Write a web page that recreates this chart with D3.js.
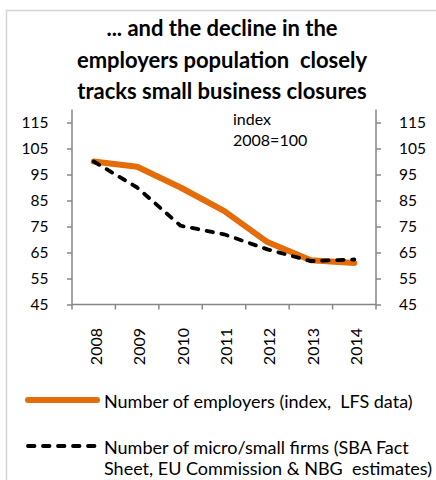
<!DOCTYPE html>
<html>
<head>
<meta charset="utf-8">
<script src="https://cdn.jsdelivr.net/npm/d3@7"></script>
<style>
  html, body { margin: 0; padding: 0; background: #fff; }
  svg { display: block; font-family: Lato, "Open Sans", sans-serif; }
</style>
</head>
<body>
<svg id="chart" width="436" height="480"></svg>
<script>
// Years on the category axis
const years = ["2008", "2009", "2010", "2011", "2012", "2013", "2014"];
// Number of employers (index 2008=100, LFS data)
const employers = [100, 98, 90, 81, 69, 62, 61];
// Number of micro/small firms (index 2008=100)
const firms = [100, 90, 75.3, 72, 66.2, 61.7, 62.3];
// Y axis tick values (axis runs up to 120, labelled every 10 from 45)
const yTicks = [45, 55, 65, 75, 85, 95, 105, 115];

const titleLines = [
  "... and the decline in the",
  "employers population  closely",
  "tracks small business closures"
];
const legendItems = [
  { lines: ["Number of employers (index,  LFS data)"], kind: "employers" },
  { lines: ["Number of micro/small firms (SBA Fact", "Sheet, EU Commission & NBG  estimates)"], kind: "firms" }
];

const svg = d3.select("#chart");
const orange = "#E46C0A";
const axisColor = "#868686";

// outer frame
svg.append("rect")
  .attr("x", 6.5).attr("y", 10.5)
  .attr("width", 450).attr("height", 480)
  .attr("fill", "none").attr("stroke", "#d4d4d4").attr("stroke-width", 1.5);

// title
svg.append("g").selectAll("text").data(titleLines).join("text")
  .attr("x", 222).attr("y", (d, i) => 36 + i * 31.5)
  .attr("text-anchor", "middle")
  .attr("font-weight", "bold").attr("font-size", 22)
  .attr("fill", "#000")
  .attr("xml:space", "preserve")
  .style("white-space", "pre")
  .text(d => d);

const plot = { left: 72, right: 376, top: 109.5, bottom: 304.5 };

const x = d3.scaleBand().domain(years).range([plot.left, plot.right]);
const y = d3.scaleLinear().domain([45, 120]).range([plot.bottom, plot.top]);

// left y axis
const yl = svg.append("g").attr("transform", `translate(${plot.left},0)`)
  .call(d3.axisLeft(y).tickValues(yTicks).tickSize(5).tickPadding(19).tickFormat(d3.format("d")));
// right y axis
const yr = svg.append("g").attr("transform", `translate(${plot.right},0)`)
  .call(d3.axisRight(y).tickValues(yTicks).tickSize(5).tickPadding(18).tickFormat(d3.format("d")));
[yl, yr].forEach(g => {
  g.select(".domain").attr("stroke", axisColor).attr("stroke-width", 1.5)
    .attr("d", `M0,${plot.top}V${plot.bottom}`);
  g.selectAll(".tick line").attr("stroke", axisColor).attr("stroke-width", 1.5);
  g.selectAll(".tick text").attr("font-size", 15.5).attr("fill", "#000")
    .attr("font-family", "Lato, sans-serif");
});
yl.selectAll(".tick text").attr("x", -23.5);

// x axis with ticks at band boundaries
const xg = svg.append("g").attr("transform", `translate(0,${plot.bottom})`);
xg.append("line").attr("x1", plot.left).attr("x2", plot.right)
  .attr("stroke", axisColor).attr("stroke-width", 1.5);
const boundaries = years.map(d => x(d)).concat([x(years[years.length - 1]) + x.bandwidth()]);
xg.selectAll("line.tk").data(boundaries).join("line").attr("class", "tk")
  .attr("x1", d => d).attr("x2", d => d).attr("y1", 0).attr("y2", 5)
  .attr("stroke", axisColor).attr("stroke-width", 1.5);
xg.selectAll("text").data(years).join("text")
  .attr("transform", d => `translate(${x(d) + x.bandwidth() / 2 + 8},${23.5}) rotate(-90)`)
  .attr("text-anchor", "end")
  .attr("font-size", 16).attr("fill", "#000")
  .text(d => d);

// annotation
svg.append("text").attr("x", 233).attr("y", 124.7).attr("font-size", 16).text("index");
svg.append("text").attr("x", 233).attr("y", 146.3).attr("font-size", 16).text("2008=100");

const line = d3.line()
  .x((d, i) => x(years[i]) + x.bandwidth() / 2)
  .y(d => y(d));

svg.append("path").datum(employers)
  .attr("d", line)
  .attr("fill", "none").attr("stroke", orange).attr("stroke-width", 6)
  .attr("stroke-linejoin", "round").attr("stroke-linecap", "round");

svg.append("path").datum(firms)
  .attr("d", line)
  .attr("fill", "none").attr("stroke", "#000").attr("stroke-width", 3.8)
  .attr("stroke-dasharray", "6.5,8.5")
  .attr("stroke-linejoin", "round").attr("stroke-linecap", "round");

// legend
const legendY = [400, 446];
const lg = svg.append("g");
legendItems.forEach((item, i) => {
  const ly = legendY[i];
  const sym = lg.append("line").attr("x1", 28).attr("x2", 97).attr("y1", ly).attr("y2", ly)
    .attr("stroke-linecap", "round");
  if (item.kind === "employers") {
    sym.attr("stroke", orange).attr("stroke-width", 6);
  } else {
    sym.attr("stroke", "#000").attr("stroke-width", 3.8).attr("stroke-dasharray", "6.5,8.5");
  }
  item.lines.forEach((t, j) => {
    lg.append("text").attr("x", 104).attr("y", ly + 8.3 + j * 21)
      .attr("font-size", 18).attr("fill", "#000")
      .attr("xml:space", "preserve").style("white-space", "pre")
      .text(t);
  });
});
</script>
</body>
</html>
